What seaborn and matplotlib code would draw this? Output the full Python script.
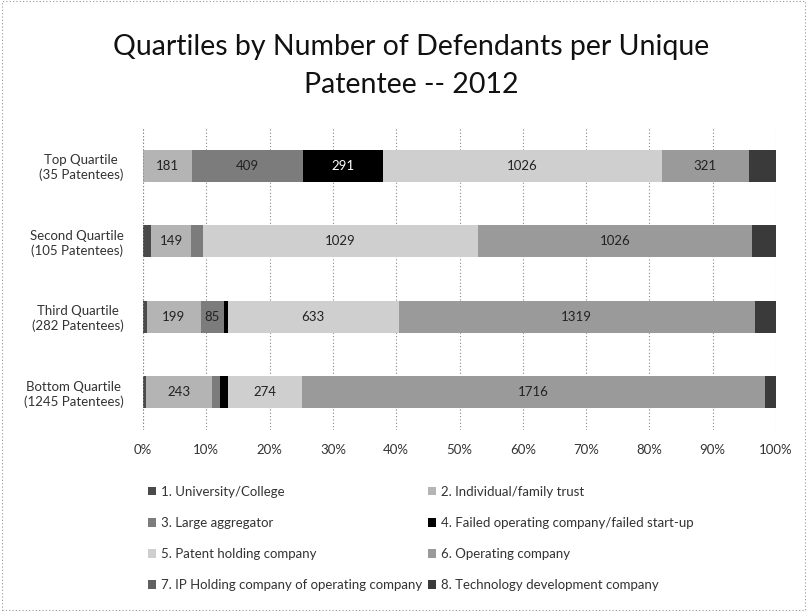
import numpy as np
import pandas as pd
import seaborn as sns
import matplotlib.pyplot as plt
from matplotlib.patches import Rectangle

# data (counts of defendants)
quartiles = ["Top Quartile\n(35 Patentees)", "Second Quartile\n(105 Patentees)",
             "Third Quartile\n(282 Patentees)", "Bottom Quartile\n(1245 Patentees)"]
series_names = ["1. University/College", "2. Individual/family trust",
                "3. Large aggregator", "4. Failed operating company/failed start-up",
                "5. Patent holding company", "6. Operating company",
                "7. IP Holding company of operating company", "8. Technology development company"]
university = [0, 31, 15, 12]
individual = [181, 149, 199, 243]
aggregator = [409, 45, 85, 30]
failed_op = [291, 0, 15, 30]
patent_holding = [1026, 1029, 633, 274]
operating = [321, 1026, 1319, 1716]
ip_holding = [0, 0, 0, 0]
tech_dev = [100, 90, 78, 40]
labelled = [False, True, True, True, True, True, False, False]

colors = ["#4a4a4a", "#b4b4b4", "#7c7c7c", "#000000",
          "#cfcfcf", "#9a9a9a", "#606060", "#3a3a3a"]

series = [university, individual, aggregator, failed_op,
          patent_holding, operating, ip_holding, tech_dev]
counts = np.array(series, dtype=float)
pct = counts / counts.sum(axis=0) * 100

sns.set_theme(style="white")
plt.rcParams['font.family'] = ['Lato', 'DejaVu Sans']

fig = plt.figure(figsize=(8.07, 6.11), dpi=100)
ax = fig.add_axes([143 / 807, 1 - 430 / 611, (776 - 143) / 807, (430 - 128) / 611])

left = np.zeros(len(quartiles))
for i, name in enumerate(series_names):
    df = pd.DataFrame({"quartile": quartiles, "pct": pct[i]})
    sns.barplot(data=df, x="pct", y="quartile", order=quartiles, orient="h",
                color=colors[i], width=0.43, left=left, ax=ax,
                linewidth=0, saturation=1)
    if labelled[i]:
        for j in range(len(quartiles)):
            if pct[i][j] >= 3.0:
                ax.text(left[j] + pct[i][j] / 2, j, f"{int(counts[i][j])}",
                        ha="center", va="center", fontsize=9.5,
                        color="white" if colors[i] == "#000000" else "#222222")
    left = left + pct[i]

ax.set_xlim(0, 100)
ax.set_ylim(3.5, -0.5)
ax.set_xticks(np.arange(0, 101, 10))
ax.set_xticklabels([f"{v}%" for v in range(0, 101, 10)], fontsize=9.5, color="#333333")
ax.tick_params(axis="y", labelsize=9.5, colors="#333333", length=0, pad=14)
ax.tick_params(axis="x", length=0, pad=10)
for lab in ax.get_yticklabels():
    lab.set_multialignment("center")
ax.set_xlabel("")
ax.set_ylabel("")
ax.xaxis.grid(True, linestyle=(0, (1, 2)), color="#888888", linewidth=0.8)
ax.set_axisbelow(True)
for s in ax.spines.values():
    s.set_visible(False)
ax.axvline(0, color="#888888", linestyle=(0, (1, 2)), linewidth=0.8)

fig.text(0.51, 1 - 47 / 611, "Quartiles by Number of Defendants per Unique",
         ha="center", va="center", fontsize=20.5, color="#111111")
fig.text(0.51, 1 - 85 / 611, "Patentee -- 2012",
         ha="center", va="center", fontsize=20.5, color="#111111")

# legend in two columns below the plot, filled row by row as in the original
order = [0, 2, 4, 6, 1, 3, 5, 7]
handles = [Rectangle((0, 0), 1, 1, facecolor=colors[k], edgecolor="none") for k in order]
fig.legend(handles, [series_names[k] for k in order], loc="upper left",
           bbox_to_anchor=(136 / 807, 1 - 474 / 611),
           ncol=2, frameon=False, fontsize=9.5, handlelength=0.6, handleheight=0.6,
           handletextpad=0.4, columnspacing=0.4, labelspacing=1.45, labelcolor="#333333")

# dotted frame around the whole chart
fig.patches.append(Rectangle((0.002, 0.002), 0.996, 0.996, transform=fig.transFigure,
                             fill=False, edgecolor="#999999", linestyle=(0, (1, 2)),
                             linewidth=0.8))

fig.savefig("out.png", dpi=100)
